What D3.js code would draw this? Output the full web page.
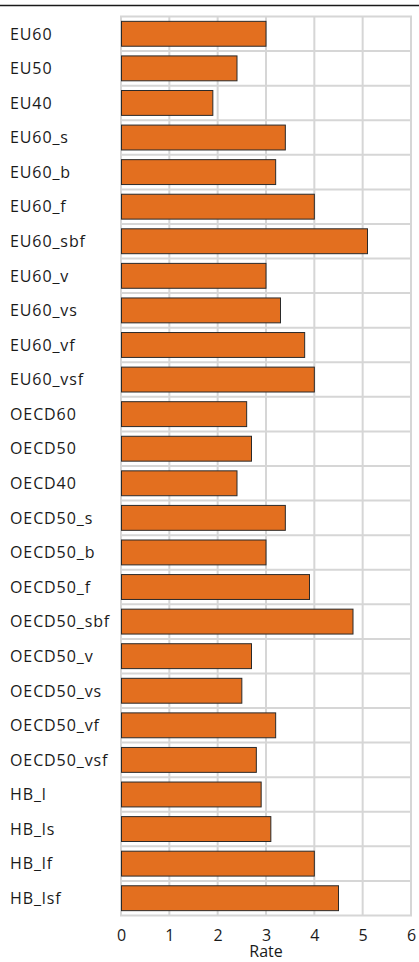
<!DOCTYPE html>
<html><head><meta charset="utf-8">
<script src="https://cdn.jsdelivr.net/npm/d3@7"></script>
<style>
html,body{margin:0;padding:0;background:#fff;}
svg{display:block;}
text{font-family:"Open Sans","Noto Sans",sans-serif;fill:#1a1a1a;}
</style></head>
<body>
<script>
const categories = ["EU60","EU50","EU40","EU60_s","EU60_b","EU60_f","EU60_sbf","EU60_v","EU60_vs","EU60_vf","EU60_vsf",
  "OECD60","OECD50","OECD40","OECD50_s","OECD50_b","OECD50_f","OECD50_sbf","OECD50_v","OECD50_vs","OECD50_vf","OECD50_vsf",
  "HB_l","HB_ls","HB_lf","HB_lsf"];
const rates = [3.0,2.4,1.9,3.4,3.2,4.0,5.1,3.0,3.3,3.8,4.0,
  2.6,2.7,2.4,3.4,3.0,3.9,4.8,2.7,2.5,3.2,2.8,
  2.9,3.1,4.0,4.5];
const xTicks = [0,1,2,3,4,5,6];
const xTitle = "Rate";

const W = 419, H = 962;
const mLeft = 121, mRight = 411, mTop = 16.5, mBottom = 915.5;
const svg = d3.select("body").append("svg").attr("width", W).attr("height", H);

const x = d3.scaleLinear().domain([0,6]).range([mLeft, mRight]);
const y = d3.scaleBand().domain(categories).range([mTop, mBottom]).paddingInner(0.28).paddingOuter(0.14);

svg.append("line").attr("x1",0).attr("x2",W).attr("y1",5.5).attr("y2",5.5)
  .attr("stroke","#1a1a1a").attr("stroke-width",1.5);

const grid = svg.append("g").attr("stroke","#d6d6d6").attr("stroke-width",2);
grid.selectAll("line.v").data(xTicks).join("line").attr("class","v")
  .attr("x1",d=>x(d)).attr("x2",d=>x(d)).attr("y1",mTop).attr("y2",mBottom);
const step = y.step();
const hb = d3.range(categories.length+1).map(i => i===0 ? mTop : (i===categories.length ? mBottom : y(categories[i]) - y.paddingInner()*step/2));
grid.selectAll("line.h").data(hb).join("line").attr("class","h")
  .attr("x1",mLeft-1).attr("x2",mRight+1).attr("y1",d=>d).attr("y2",d=>d);

svg.append("g").selectAll("rect").data(categories).join("rect")
  .attr("x", x(0)+0.5)
  .attr("y", d => y(d))
  .attr("width", (d,i) => x(rates[i]) - x(0) - 0.5)
  .attr("height", y.bandwidth())
  .attr("fill","#e36f1f").attr("stroke","#2a2a2a").attr("stroke-width",1);

svg.append("g").selectAll("text").data(categories).join("text")
  .attr("x", 10).attr("y", d => y(d) + y.bandwidth()/2)
  .attr("dy","0.36em").attr("font-size",16).attr("letter-spacing","0.9px")
  .text(d=>d);

const xAxis = d3.axisBottom(x).tickValues(xTicks).tickSize(0).tickPadding(0).tickFormat(d3.format("d"));
const ax = svg.append("g").attr("transform",`translate(0,${mBottom})`).call(xAxis);
ax.select(".domain").remove();
ax.selectAll("text").attr("font-size",16).attr("y",25).attr("dy",0)
  .attr("font-family","Open Sans, Noto Sans, sans-serif").attr("fill","#1a1a1a");

svg.append("text").attr("x",(mLeft+mRight)/2).attr("y",957).attr("text-anchor","middle")
  .attr("font-size",16).text(xTitle);
</script>
</body></html>
